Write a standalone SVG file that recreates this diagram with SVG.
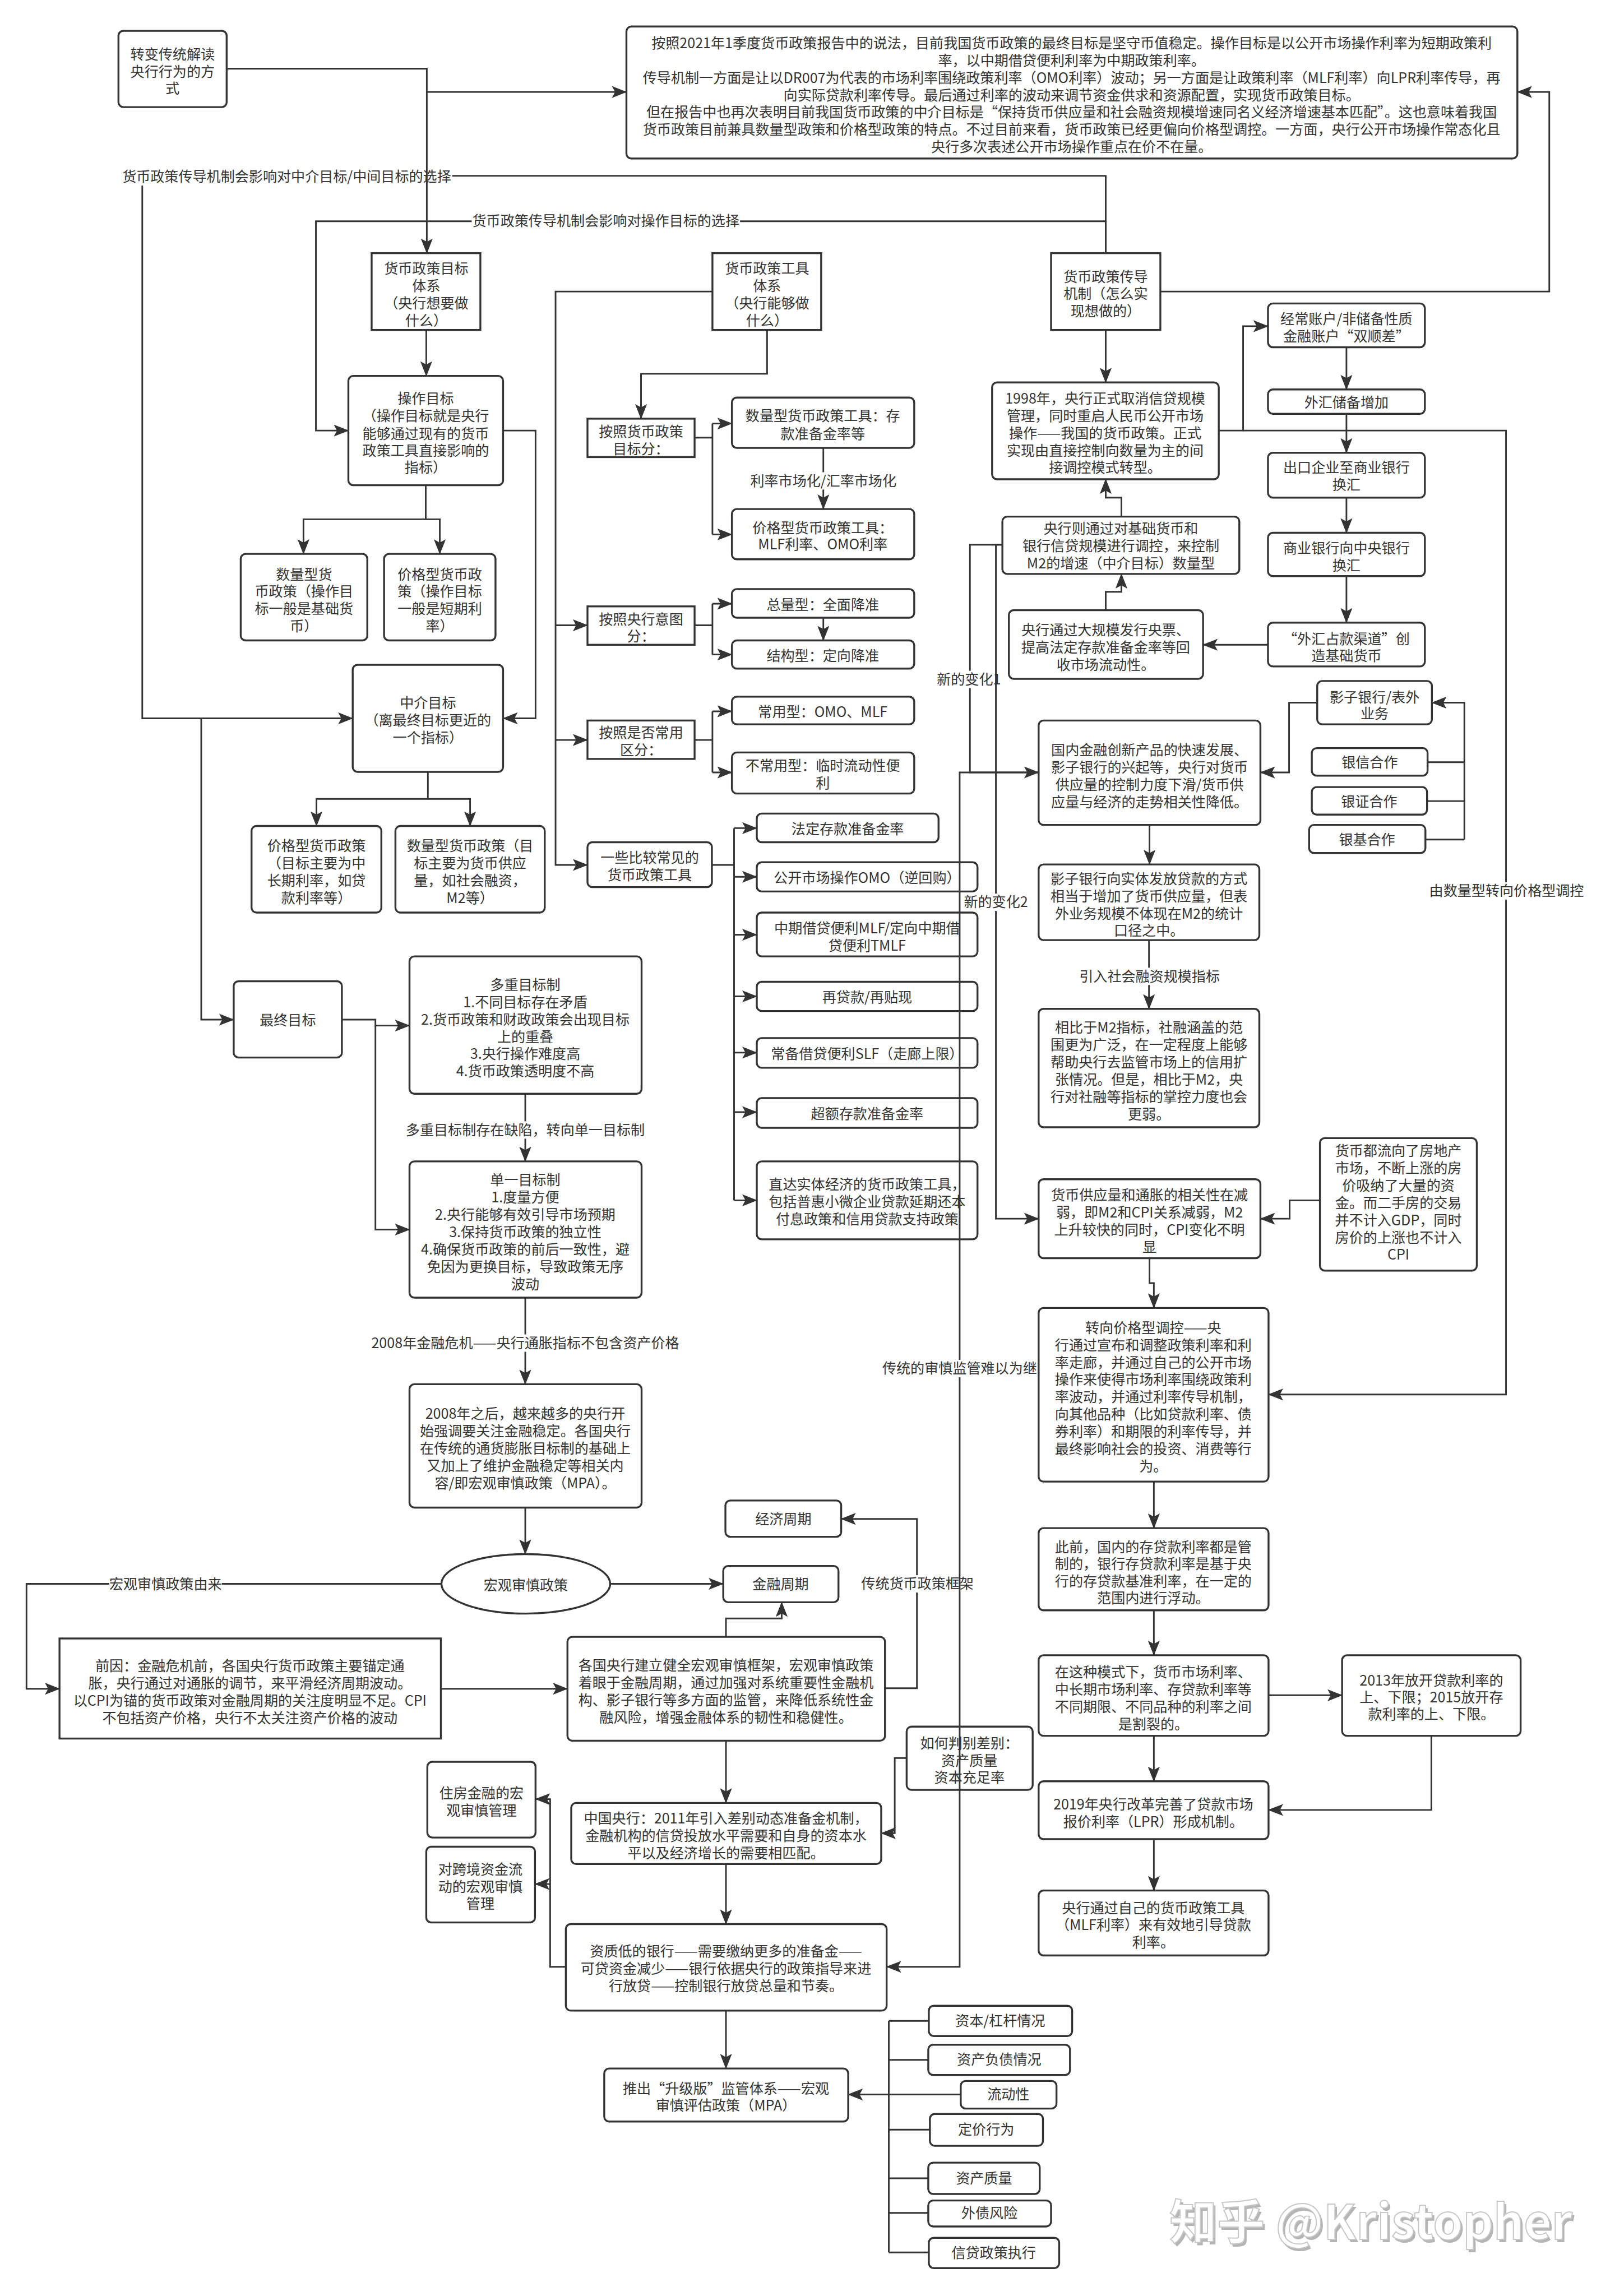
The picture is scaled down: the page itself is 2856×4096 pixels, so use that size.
<svg xmlns="http://www.w3.org/2000/svg" width="2856" height="4096" viewBox="0 0 2856 4096">
<defs>
<style>
.b{fill:#fff;stroke:#333;stroke-width:3.5}
.c{fill:none;stroke:#333;stroke-width:3;marker-end:url(#a)}
.l{fill:none;stroke:#333;stroke-width:3}
.bg{fill:#fff}
text{font-family:"Noto Sans CJK SC","Noto Sans",sans-serif;font-size:26px;fill:#333;text-anchor:middle}
.wm{font-size:88px;text-anchor:start;font-weight:bold}
</style>
<marker id="a" markerUnits="userSpaceOnUse" markerWidth="28" markerHeight="22" viewBox="0 0 28 22" refX="27" refY="11" orient="auto"><path d="M0,0 L28,11 L0,22 L6,11 Z" fill="#333"/></marker>
</defs>
<rect width="2856" height="4096" fill="#fff"/>
<g transform="scale(0.965)">
<g id="nodes">
<g id="n_transform"><rect class="b" x="219" y="57" width="200" height="141" rx="9"/><text><tspan x="319" y="110">转变传统解读</tspan><tspan x="319" y="142">央行行为的方</tspan><tspan x="319" y="173">式</tspan></text></g>
<g id="n_bigtext"><rect class="b" x="1158" y="49" width="1647" height="244" rx="9"/><text><tspan x="1981" y="89">按照2021年1季度货币政策报告中的说法，目前我国货币政策的最终目标是坚守币值稳定。操作目标是以公开市场操作利率为短期政策利</tspan><tspan x="1981" y="121">率，以中期借贷便利利率为中期政策利率。</tspan><tspan x="1981" y="153">传导机制一方面是让以DR007为代表的市场利率围绕政策利率（OMO利率）波动；另一方面是让政策利率（MLF利率）向LPR利率传导，再</tspan><tspan x="1981" y="185">向实际贷款利率传导。最后通过利率的波动来调节资金供求和资源配置，实现货币政策目标。</tspan><tspan x="1981" y="217">但在报告中也再次表明目前我国货币政策的中介目标是“保持货币供应量和社会融资规模增速同名义经济增速基本匹配”。这也意味着我国</tspan><tspan x="1981" y="249">货币政策目前兼具数量型政策和价格型政策的特点。不过目前来看，货币政策已经更偏向价格型调控。一方面，央行公开市场操作常态化且</tspan><tspan x="1981" y="281">央行多次表述公开市场操作重点在价不在量。</tspan></text></g>
<g id="n_goal"><rect class="b" x="687" y="468" width="201" height="142"/><text><tspan x="788" y="506">货币政策目标</tspan><tspan x="788" y="538">体系</tspan><tspan x="788" y="570">（央行想要做</tspan><tspan x="788" y="602">什么）</tspan></text></g>
<g id="n_tool"><rect class="b" x="1317" y="468" width="201" height="142"/><text><tspan x="1418" y="506">货币政策工具</tspan><tspan x="1418" y="538">体系</tspan><tspan x="1418" y="570">（央行能够做</tspan><tspan x="1418" y="602">什么）</tspan></text></g>
<g id="n_trans"><rect class="b" x="1943" y="468" width="202" height="142"/><text><tspan x="2044" y="521">货币政策传导</tspan><tspan x="2044" y="552">机制（怎么实</tspan><tspan x="2044" y="584">现想做的）</tspan></text></g>
<g id="n_op"><rect class="b" x="644" y="695" width="286" height="202" rx="9"/><text><tspan x="787" y="746">操作目标</tspan><tspan x="787" y="778">（操作目标就是央行</tspan><tspan x="787" y="811">能够通过现有的货币</tspan><tspan x="787" y="843">政策工具直接影响的</tspan><tspan x="787" y="874">指标）</tspan></text></g>
<g id="n_qty_op"><rect class="b" x="445" y="1024" width="234" height="160" rx="9"/><text><tspan x="562" y="1071">数量型货</tspan><tspan x="562" y="1103">币政策（操作目</tspan><tspan x="562" y="1135">标一般是基础货</tspan><tspan x="562" y="1167">币）</tspan></text></g>
<g id="n_price_op"><rect class="b" x="710" y="1024" width="206" height="160" rx="9"/><text><tspan x="813" y="1071">价格型货币政</tspan><tspan x="813" y="1103">策（操作目标</tspan><tspan x="813" y="1135">一般是短期利</tspan><tspan x="813" y="1167">率）</tspan></text></g>
<g id="n_mid"><rect class="b" x="652" y="1229" width="278" height="198" rx="9"/><text><tspan x="791" y="1309">中介目标</tspan><tspan x="791" y="1341">（离最终目标更近的</tspan><tspan x="791" y="1373">一个指标）</tspan></text></g>
<g id="n_price_mid"><rect class="b" x="465" y="1527" width="240" height="160" rx="9"/><text><tspan x="585" y="1573">价格型货币政策</tspan><tspan x="585" y="1605">（目标主要为中</tspan><tspan x="585" y="1637">长期利率，如贷</tspan><tspan x="585" y="1669">款利率等）</tspan></text></g>
<g id="n_qty_mid"><rect class="b" x="731" y="1527" width="276" height="160" rx="9"/><text><tspan x="869" y="1573">数量型货币政策（目</tspan><tspan x="869" y="1605">标主要为货币供应</tspan><tspan x="869" y="1637">量，如社会融资，</tspan><tspan x="869" y="1669">M2等）</tspan></text></g>
<g id="n_final"><rect class="b" x="432" y="1814" width="200" height="141" rx="9"/><text x="532" y="1895">最终目标</text></g>
<g id="n_multi"><rect class="b" x="757" y="1768" width="429" height="254" rx="9"/><text><tspan x="971" y="1830">多重目标制</tspan><tspan x="971" y="1862">1.不同目标存在矛盾</tspan><tspan x="971" y="1894">2.货币政策和财政政策会出现目标</tspan><tspan x="971" y="1926">上的重叠</tspan><tspan x="971" y="1958">3.央行操作难度高</tspan><tspan x="971" y="1990">4.货币政策透明度不高</tspan></text></g>
<g id="n_single"><rect class="b" x="757" y="2147" width="429" height="252" rx="9"/><text><tspan x="971" y="2191">单一目标制</tspan><tspan x="971" y="2223">1.度量方便</tspan><tspan x="971" y="2255">2.央行能够有效引导市场预期</tspan><tspan x="971" y="2287">3.保持货币政策的独立性</tspan><tspan x="971" y="2319">4.确保货币政策的前后一致性，避</tspan><tspan x="971" y="2351">免因为更换目标，导致政策无序</tspan><tspan x="971" y="2383">波动</tspan></text></g>
<g id="n_2008"><rect class="b" x="757" y="2559" width="429" height="228" rx="9"/><text><tspan x="971" y="2623">2008年之后，越来越多的央行开</tspan><tspan x="971" y="2655">始强调要关注金融稳定。各国央行</tspan><tspan x="971" y="2687">在传统的通货膨胀目标制的基础上</tspan><tspan x="971" y="2719">又加上了维护金融稳定等相关内</tspan><tspan x="971" y="2751">容/即宏观审慎政策（MPA）。</tspan></text></g>
<g id="n_macro"><ellipse class="b" cx="972" cy="2928" rx="156" ry="55"/><text x="972" y="2940">宏观审慎政策</text></g>
<g id="n_cause"><rect class="b" x="110" y="3029" width="705" height="185"/><text><tspan x="462" y="3089">前因：金融危机前，各国央行货币政策主要锚定通</tspan><tspan x="462" y="3121">胀，央行通过对通胀的调节，来平滑经济周期波动。</tspan><tspan x="462" y="3153">以CPI为锚的货币政策对金融周期的关注度明显不足。CPI</tspan><tspan x="462" y="3185">不包括资产价格，央行不太关注资产价格的波动</tspan></text></g>
<g id="n_global"><rect class="b" x="1049" y="3026" width="587" height="192" rx="9"/><text><tspan x="1342" y="3088">各国央行建立健全宏观审慎框架，宏观审慎政策</tspan><tspan x="1342" y="3120">着眼于金融周期，通过加强对系统重要性金融机</tspan><tspan x="1342" y="3152">构、影子银行等多方面的监管，来降低系统性金</tspan><tspan x="1342" y="3184">融风险，增强金融体系的韧性和稳健性。</tspan></text></g>
<g id="n_econ"><rect class="b" x="1341" y="2774" width="214" height="67" rx="9"/><text x="1448" y="2818">经济周期</text></g>
<g id="n_fin"><rect class="b" x="1337" y="2895" width="213" height="67" rx="9"/><text x="1443" y="2938">金融周期</text></g>
<g id="n_howto"><rect class="b" x="1676" y="3192" width="233" height="117" rx="9"/><text><tspan x="1792" y="3232">如何判别差别：</tspan><tspan x="1792" y="3264">资产质量</tspan><tspan x="1792" y="3295">资本充足率</tspan></text></g>
<g id="n_china"><rect class="b" x="1056" y="3333" width="573" height="113" rx="9"/><text><tspan x="1342" y="3371">中国央行：2011年引入差别动态准备金机制，</tspan><tspan x="1342" y="3403">金融机构的信贷投放水平需要和自身的资本水</tspan><tspan x="1342" y="3435">平以及经济增长的需要相匹配。</tspan></text></g>
<g id="n_lowq"><rect class="b" x="1046" y="3557" width="593" height="160" rx="9"/><text><tspan x="1342" y="3617">资质低的银行——需要缴纳更多的准备金——</tspan><tspan x="1342" y="3649">可贷资金减少——银行依据央行的政策指导来进</tspan><tspan x="1342" y="3681">行放贷——控制银行放贷总量和节奏。</tspan></text></g>
<g id="n_house"><rect class="b" x="790" y="3257" width="200" height="140" rx="9"/><text><tspan x="890" y="3324">住房金融的宏</tspan><tspan x="890" y="3356">观审慎管理</tspan></text></g>
<g id="n_cross"><rect class="b" x="788" y="3414" width="201" height="140" rx="9"/><text><tspan x="888" y="3465">对跨境资金流</tspan><tspan x="888" y="3497">动的宏观审慎</tspan><tspan x="888" y="3529">管理</tspan></text></g>
<g id="n_mpa"><rect class="b" x="1117" y="3824" width="451" height="98" rx="9"/><text><tspan x="1342" y="3870">推出“升级版”监管体系——宏观</tspan><tspan x="1342" y="3902">审慎评估政策（MPA）</tspan></text></g>
<g id="n_m1"><rect class="b" x="1717" y="3708" width="265" height="56" rx="9"/><text x="1849" y="3745">资本/杠杆情况</text></g>
<g id="n_m2"><rect class="b" x="1716" y="3780" width="262" height="56" rx="9"/><text x="1847" y="3817">资产负债情况</text></g>
<g id="n_m3"><rect class="b" x="1776" y="3847" width="177" height="51" rx="9"/><text x="1864" y="3881">流动性</text></g>
<g id="n_m4"><rect class="b" x="1719" y="3908" width="209" height="59" rx="9"/><text x="1823" y="3946">定价行为</text></g>
<g id="n_m5"><rect class="b" x="1716" y="3998" width="206" height="58" rx="9"/><text x="1819" y="4036">资产质量</text></g>
<g id="n_m6"><rect class="b" x="1716" y="4068" width="227" height="48" rx="9"/><text x="1829" y="4101">外债风险</text></g>
<g id="n_m7"><rect class="b" x="1717" y="4137" width="241" height="56" rx="9"/><text x="1837" y="4174">信贷政策执行</text></g>
<g id="n_t_goal"><rect class="b" x="1086" y="774" width="198" height="71"/><text><tspan x="1185" y="807">按照货币政策</tspan><tspan x="1185" y="839">目标分：</tspan></text></g>
<g id="n_t_qty"><rect class="b" x="1353" y="735" width="337" height="93" rx="9"/><text><tspan x="1521" y="778">数量型货币政策工具：存</tspan><tspan x="1521" y="811">款准备金率等</tspan></text></g>
<g id="n_t_price"><rect class="b" x="1353" y="941" width="337" height="93" rx="9"/><text><tspan x="1521" y="985">价格型货币政策工具：</tspan><tspan x="1521" y="1016">MLF利率、OMO利率</tspan></text></g>
<g id="n_t_intent"><rect class="b" x="1086" y="1121" width="198" height="71"/><text><tspan x="1185" y="1154">按照央行意图</tspan><tspan x="1185" y="1185">分：</tspan></text></g>
<g id="n_t_total"><rect class="b" x="1353" y="1089" width="337" height="53" rx="9"/><text x="1521" y="1127">总量型：全面降准</text></g>
<g id="n_t_struct"><rect class="b" x="1353" y="1184" width="337" height="52" rx="9"/><text x="1521" y="1222">结构型：定向降准</text></g>
<g id="n_t_usual"><rect class="b" x="1086" y="1332" width="198" height="71"/><text><tspan x="1185" y="1364">按照是否常用</tspan><tspan x="1185" y="1396">区分：</tspan></text></g>
<g id="n_t_common"><rect class="b" x="1353" y="1288" width="337" height="51" rx="9"/><text x="1521" y="1325">常用型：OMO、MLF</text></g>
<g id="n_t_uncommon"><rect class="b" x="1353" y="1391" width="337" height="76" rx="9"/><text><tspan x="1521" y="1425">不常用型：临时流动性便</tspan><tspan x="1521" y="1457">利</tspan></text></g>
<g id="n_t_some"><rect class="b" x="1086" y="1557" width="230" height="83" rx="9"/><text><tspan x="1201" y="1595">一些比较常见的</tspan><tspan x="1201" y="1627">货币政策工具</tspan></text></g>
<g id="n_i1"><rect class="b" x="1399" y="1504" width="336" height="53" rx="9"/><text x="1567" y="1542">法定存款准备金率</text></g>
<g id="n_i2"><rect class="b" x="1399" y="1594" width="408" height="54" rx="9"/><text x="1603" y="1632">公开市场操作OMO（逆回购）</text></g>
<g id="n_i3"><rect class="b" x="1399" y="1687" width="408" height="81" rx="9"/><text><tspan x="1603" y="1725">中期借贷便利MLF/定向中期借</tspan><tspan x="1603" y="1757">贷便利TMLF</tspan></text></g>
<g id="n_i4"><rect class="b" x="1399" y="1815" width="408" height="54" rx="9"/><text x="1603" y="1853">再贷款/再贴现</text></g>
<g id="n_i5"><rect class="b" x="1399" y="1919" width="408" height="55" rx="9"/><text x="1603" y="1957">常备借贷便利SLF（走廊上限）</text></g>
<g id="n_i6"><rect class="b" x="1399" y="2030" width="408" height="55" rx="9"/><text x="1603" y="2068">超额存款准备金率</text></g>
<g id="n_i7"><rect class="b" x="1399" y="2147" width="408" height="144" rx="9"/><text><tspan x="1603" y="2199">直达实体经济的货币政策工具，</tspan><tspan x="1603" y="2231">包括普惠小微企业贷款延期还本</tspan><tspan x="1603" y="2263">付息政策和信用贷款支持政策</tspan></text></g>
<g id="n_1998"><rect class="b" x="1834" y="707" width="419" height="179" rx="9"/><text><tspan x="2043" y="746">1998年，央行正式取消信贷规模</tspan><tspan x="2043" y="778">管理，同时重启人民币公开市场</tspan><tspan x="2043" y="810">操作——我国的货币政策。正式</tspan><tspan x="2043" y="842">实现由直接控制向数量为主的间</tspan><tspan x="2043" y="874">接调控模式转型。</tspan></text></g>
<g id="n_acct"><rect class="b" x="2344" y="561" width="290" height="81" rx="9"/><text><tspan x="2489" y="599">经常账户/非储备性质</tspan><tspan x="2489" y="631">金融账户“双顺差”</tspan></text></g>
<g id="n_fx"><rect class="b" x="2344" y="720" width="290" height="45" rx="9"/><text x="2489" y="753">外汇储备增加</text></g>
<g id="n_export"><rect class="b" x="2344" y="837" width="290" height="83" rx="9"/><text><tspan x="2489" y="874">出口企业至商业银行</tspan><tspan x="2489" y="906">换汇</tspan></text></g>
<g id="n_bank"><rect class="b" x="2344" y="985" width="290" height="80" rx="9"/><text><tspan x="2489" y="1023">商业银行向中央银行</tspan><tspan x="2489" y="1055">换汇</tspan></text></g>
<g id="n_fxchan"><rect class="b" x="2344" y="1151" width="290" height="81" rx="9"/><text><tspan x="2489" y="1191">“外汇占款渠道”创</tspan><tspan x="2489" y="1222">造基础货币</tspan></text></g>
<g id="n_pboc_ctrl"><rect class="b" x="1853" y="955" width="438" height="106" rx="9"/><text><tspan x="2072" y="987">央行则通过对基础货币和</tspan><tspan x="2072" y="1019">银行信贷规模进行调控，来控制</tspan><tspan x="2072" y="1051">M2的增速（中介目标）数量型</tspan></text></g>
<g id="n_pboc_bill"><rect class="b" x="1865" y="1128" width="359" height="127" rx="9"/><text><tspan x="2044" y="1174">央行通过大规模发行央票、</tspan><tspan x="2044" y="1206">提高法定存款准备金率等回</tspan><tspan x="2044" y="1238">收市场流动性。</tspan></text></g>
<g id="n_shadow"><rect class="b" x="2435" y="1259" width="212" height="80" rx="9"/><text><tspan x="2541" y="1298">影子银行/表外</tspan><tspan x="2541" y="1328">业务</tspan></text></g>
<g id="n_yx"><rect class="b" x="2425" y="1383" width="214" height="51" rx="9"/><text x="2532" y="1419">银信合作</text></g>
<g id="n_yz"><rect class="b" x="2425" y="1455" width="213" height="51" rx="9"/><text x="2531" y="1491">银证合作</text></g>
<g id="n_yj"><rect class="b" x="2420" y="1525" width="215" height="52" rx="9"/><text x="2527" y="1562">银基合作</text></g>
<g id="n_innov"><rect class="b" x="1920" y="1332" width="410" height="193" rx="9"/><text><tspan x="2125" y="1396">国内金融创新产品的快速发展、</tspan><tspan x="2125" y="1428">影子银行的兴起等，央行对货币</tspan><tspan x="2125" y="1460">供应量的控制力度下滑/货币供</tspan><tspan x="2125" y="1492">应量与经济的走势相关性降低。</tspan></text></g>
<g id="n_shadowloan"><rect class="b" x="1920" y="1598" width="408" height="140" rx="9"/><text><tspan x="2124" y="1634">影子银行向实体发放贷款的方式</tspan><tspan x="2124" y="1666">相当于增加了货币供应量，但表</tspan><tspan x="2124" y="1698">外业务规模不体现在M2的统计</tspan><tspan x="2124" y="1730">口径之中。</tspan></text></g>
<g id="n_sf"><rect class="b" x="1920" y="1865" width="408" height="219" rx="9"/><text><tspan x="2124" y="1909">相比于M2指标，社融涵盖的范</tspan><tspan x="2124" y="1941">围更为广泛，在一定程度上能够</tspan><tspan x="2124" y="1973">帮助央行去监管市场上的信用扩</tspan><tspan x="2124" y="2005">张情况。但是，相比于M2，央</tspan><tspan x="2124" y="2037">行对社融等指标的掌控力度也会</tspan><tspan x="2124" y="2069">更弱。</tspan></text></g>
<g id="n_real"><rect class="b" x="2440" y="2104" width="290" height="245" rx="9"/><text><tspan x="2585" y="2137">货币都流向了房地产</tspan><tspan x="2585" y="2169">市场，不断上涨的房</tspan><tspan x="2585" y="2201">价吸纳了大量的资</tspan><tspan x="2585" y="2233">金。而二手房的交易</tspan><tspan x="2585" y="2265">并不计入GDP，同时</tspan><tspan x="2585" y="2297">房价的上涨也不计入</tspan><tspan x="2585" y="2329">CPI</tspan></text></g>
<g id="n_m2cpi"><rect class="b" x="1920" y="2180" width="410" height="146" rx="9"/><text><tspan x="2125" y="2219">货币供应量和通胀的相关性在减</tspan><tspan x="2125" y="2251">弱，即M2和CPI关系减弱，M2</tspan><tspan x="2125" y="2283">上升较快的同时，CPI变化不明</tspan><tspan x="2125" y="2315">显</tspan></text></g>
<g id="n_price_turn"><rect class="b" x="1920" y="2418" width="425" height="321" rx="9"/><text><tspan x="2132" y="2464">转向价格型调控——央</tspan><tspan x="2132" y="2496">行通过宣布和调整政策利率和利</tspan><tspan x="2132" y="2528">率走廊，并通过自己的公开市场</tspan><tspan x="2132" y="2560">操作来使得市场利率围绕政策利</tspan><tspan x="2132" y="2592">率波动，并通过利率传导机制，</tspan><tspan x="2132" y="2624">向其他品种（比如贷款利率、债</tspan><tspan x="2132" y="2656">券利率）和期限的利率传导，并</tspan><tspan x="2132" y="2688">最终影响社会的投资、消费等行</tspan><tspan x="2132" y="2720">为。</tspan></text></g>
<g id="n_before"><rect class="b" x="1920" y="2825" width="425" height="152" rx="9"/><text><tspan x="2132" y="2869">此前，国内的存贷款利率都是管</tspan><tspan x="2132" y="2901">制的，银行存贷款利率是基于央</tspan><tspan x="2132" y="2933">行的存贷款基准利率，在一定的</tspan><tspan x="2132" y="2964">范围内进行浮动。</tspan></text></g>
<g id="n_mode"><rect class="b" x="1920" y="3060" width="425" height="149" rx="9"/><text><tspan x="2132" y="3101">在这种模式下，货币市场利率、</tspan><tspan x="2132" y="3133">中长期市场利率、存贷款利率等</tspan><tspan x="2132" y="3165">不同期限、不同品种的利率之间</tspan><tspan x="2132" y="3197">是割裂的。</tspan></text></g>
<g id="n_2013"><rect class="b" x="2481" y="3060" width="330" height="149" rx="9"/><text><tspan x="2646" y="3116">2013年放开贷款利率的</tspan><tspan x="2646" y="3147">上、下限；2015放开存</tspan><tspan x="2646" y="3178">款利率的上、下限。</tspan></text></g>
<g id="n_2019"><rect class="b" x="1920" y="3293" width="425" height="107" rx="9"/><text><tspan x="2132" y="3345">2019年央行改革完善了贷款市场</tspan><tspan x="2132" y="3377">报价利率（LPR）形成机制。</tspan></text></g>
<g id="n_mlf"><rect class="b" x="1920" y="3495" width="425" height="120" rx="9"/><text><tspan x="2132" y="3537">央行通过自己的货币政策工具</tspan><tspan x="2132" y="3568">（MLF利率）来有效地引导贷款</tspan><tspan x="2132" y="3600">利率。</tspan></text></g>
</g>
<g id="connectors">
<path class="c" d="M2044,468 V325 H263 V1328 H652"/>
<rect class="bg" x="224" y="311" width="612" height="32"/><text x="530" y="336">货币政策传导机制会影响对中介目标/中间目标的选择</text>
<path class="c" d="M419,127 H789 V468"/>
<path class="c" d="M789,170 H1158"/>
<path class="c" d="M2044,468 V409 H584 V796 H644"/>
<rect class="bg" x="872" y="393" width="496" height="32"/><text x="1120" y="418">货币政策传导机制会影响对操作目标的选择</text>
<path class="c" d="M2145,539 H2864 V170 H2805"/>
<path class="c" d="M788,610 V695"/>
<path class="c" d="M787,897 V960 H561 V1024"/>
<path class="c" d="M787,960 H813 V1024"/>
<path class="c" d="M930,796 H990 V1328 H930"/>
<path class="c" d="M791,1427 V1477 H585 V1527"/>
<path class="c" d="M791,1477 H869 V1527"/>
<path class="c" d="M372,1328 V1885 H432"/>
<path class="c" d="M632,1885 H694 V1896 H757"/>
<path class="c" d="M694,1896 V2273 H757"/>
<path class="c" d="M971,2022 V2147"/>
<rect class="bg" x="750" y="2073" width="442" height="32"/><text x="971" y="2098">多重目标制存在缺陷，转向单一目标制</text>
<path class="c" d="M971,2399 V2559"/>
<rect class="bg" x="679" y="2467" width="584" height="32"/><text x="971" y="2492">2008年金融危机——央行通胀指标不包含资产价格</text>
<path class="c" d="M971,2787 V2873"/>
<path class="c" d="M816,2928 H49 V3122 H110"/>
<rect class="bg" x="202" y="2913" width="208" height="32"/><text x="306" y="2938">宏观审慎政策由来</text>
<path class="c" d="M1128,2928 H1337"/>
<path class="c" d="M815,3122 H1049"/>
<path class="c" d="M1342,3026 V2992 H1445 V2962"/>
<path class="c" d="M1636,3121 H1695 V2808 H1555"/>
<rect class="bg" x="1592" y="2912" width="208" height="32"/><text x="1696" y="2937">传统货币政策框架</text>
<path class="c" d="M1342,3218 V3333"/>
<path class="c" d="M1676,3250 H1654 V3389 H1629"/>
<path class="c" d="M1342,3446 V3557"/>
<path class="c" d="M1046,3636 H1017 V3326 H990"/>
<path class="c" d="M1017,3483 H989"/>
<path class="c" d="M1342,3717 V3824"/>
<path class="l" d="M1643,3736 V4164 M1717,3736 H1643 M1716,3808 H1643 M1719,3937 H1643 M1716,4027 H1643 M1716,4091 H1643 M1717,4164 H1643"/>
<path class="c" d="M1776,3872 H1568"/>
<path class="c" d="M1418,610 V691 H1185 V774"/>
<path class="c" d="M1317,539 H1027 V1599 H1086"/>
<path class="c" d="M1027,1156 H1086"/>
<path class="c" d="M1027,1368 H1086"/>
<path class="l" d="M1284,809 H1317 M1317,783 V988"/>
<path class="c" d="M1317,783 H1353"/>
<path class="c" d="M1317,988 H1353"/>
<path class="c" d="M1522,828 V941"/>
<rect class="bg" x="1386" y="873" width="272" height="32"/><text x="1522" y="898">利率市场化/汇率市场化</text>
<path class="l" d="M1284,1156 H1317 M1317,1116 V1210"/>
<path class="c" d="M1317,1116 H1353"/>
<path class="c" d="M1317,1210 H1353"/>
<path class="c" d="M1522,1142 V1184"/>
<path class="l" d="M1284,1368 H1317 M1317,1315 V1428"/>
<path class="c" d="M1317,1315 H1353"/>
<path class="c" d="M1317,1428 H1353"/>
<path class="l" d="M1316,1599 H1357 M1357,1531 V2219"/>
<path class="c" d="M1357,1531 H1399"/>
<path class="c" d="M1357,1621 H1399"/>
<path class="c" d="M1357,1728 H1399"/>
<path class="c" d="M1357,1842 H1399"/>
<path class="c" d="M1357,1946 H1399"/>
<path class="c" d="M1357,2056 H1399"/>
<path class="c" d="M1357,2219 H1399"/>
<path class="c" d="M2044,610 V707"/>
<path class="c" d="M2253,796 H2298 V603 H2344"/>
<path class="c" d="M2298,796 H2784 V2578 H2345"/>
<rect class="bg" x="2642" y="1631" width="286" height="32"/><text x="2785" y="1656">由数量型转向价格型调控</text>
<path class="c" d="M2489,642 V720"/>
<path class="c" d="M2489,765 V837"/>
<path class="c" d="M2489,920 V985"/>
<path class="c" d="M2489,1065 V1151"/>
<path class="c" d="M2344,1192 H2224"/>
<path class="c" d="M2044,1128 V1094 H2073 V1061"/>
<path class="c" d="M2073,955 V920 H2044 V886"/>
<path class="c" d="M1853,1007 H1793 V1428 H1920"/>
<rect class="bg" x="1731" y="1240" width="120" height="32"/><text x="1791" y="1265">新的变化1</text>
<path class="c" d="M1853,1007 H1841 V2253 H1920"/>
<rect class="bg" x="1781" y="1652" width="120" height="32"/><text x="1841" y="1677">新的变化2</text>
<path class="c" d="M1920,1428 H1774 V3636 H1639"/>
<rect class="bg" x="1631" y="2514" width="286" height="32"/><text x="1774" y="2539">传统的审慎监管难以为继</text>
<path class="c" d="M2435,1299 H2383 V1428 H2330"/>
<path class="l" d="M2639,1409 H2707 M2638,1481 H2707 M2635,1552 H2707"/>
<path class="c" d="M2707,1552 V1299 H2647"/>
<path class="c" d="M2125,1525 V1598"/>
<path class="c" d="M2124,1738 V1865"/>
<rect class="bg" x="1995" y="1789" width="260" height="32"/><text x="2125" y="1814">引入社会融资规模指标</text>
<path class="c" d="M2440,2219 H2384 V2253 H2330"/>
<path class="c" d="M2125,2326 V2372 H2133 V2418"/>
<path class="c" d="M2133,2739 V2825"/>
<path class="c" d="M2133,2977 V3060"/>
<path class="c" d="M2345,3134 H2481"/>
<path class="c" d="M2646,3209 V3346 H2345"/>
<path class="c" d="M2133,3209 V3293"/>
<path class="c" d="M2133,3400 V3495"/>
</g>
<g id="watermark">
<text class="wm" x="2166" y="4145" style="fill:#b5b5b5">知乎 @Kristopher</text>
<text class="wm" x="2162" y="4140" style="fill:#fff;stroke:#c8c8c8;stroke-width:2">知乎 @Kristopher</text>
</g>
</g>
</svg>
